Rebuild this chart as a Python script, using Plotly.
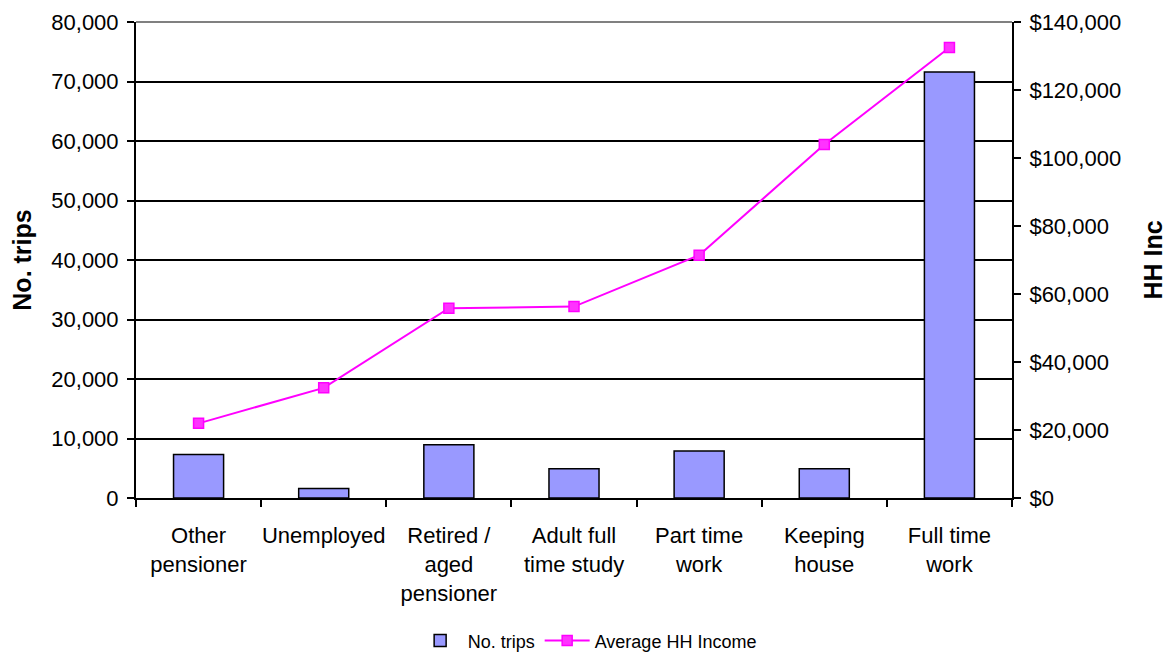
import plotly.graph_objects as go

categories = ["Other<br>pensioner", "Unemployed", "Retired /<br>aged<br>pensioner",
              "Adult full<br>time study", "Part time<br>work", "Keeping<br>house", "Full time<br>work"]
no_trips = [7300, 1600, 8950, 4900, 7900, 4900, 71600]
avg_income = [21950, 32400, 55800, 56300, 71400, 104000, 132500]

FONT = "Liberation Sans, Arial, sans-serif"

fig = go.Figure()
fig.add_trace(go.Bar(
    x=categories, y=no_trips, name="No. trips",
    marker=dict(color="#9999FF", line=dict(color="black", width=1.5)),
    width=0.4, yaxis="y",
))
fig.add_trace(go.Scatter(
    x=categories, y=avg_income, name="Average HH Income",
    mode="lines+markers", yaxis="y2",
    line=dict(color="#FF00FF", width=2),
    marker=dict(symbol="square", size=10, color="#FF33FF", line=dict(color="#FF00FF", width=1.5)),
))

fig.update_layout(
    width=1172, height=654,
    margin=dict(l=128, r=168, t=14, b=164, autoexpand=False),
    paper_bgcolor="white", plot_bgcolor="white",
    font=dict(family=FONT, color="black"),
    showlegend=True,
    legend=dict(orientation="h", x=0.515, xanchor="center", y=-0.3, yanchor="middle",
                font=dict(size=18, family=FONT), tracegroupgap=0, itemwidth=45),
    bargap=0.6,
    xaxis=dict(
        type="category", showline=True, linecolor="black", linewidth=2,
        ticks="outside", tickson="boundaries", ticklen=7, tickwidth=1.5, tickcolor="black",
        tickfont=dict(size=22, family=FONT), showgrid=False, tickangle=0, automargin=False,
        ticklabelstandoff=17,
    ),
    yaxis=dict(
        range=[0, 80000], dtick=10000, tickformat=",", showline=True, linecolor="black", linewidth=2,
        ticks="outside", ticklen=7, tickwidth=1.5, tickcolor="black",
        showgrid=True, gridcolor="black", gridwidth=1.5,
        tickfont=dict(size=22, family=FONT), automargin=False, ticklabelstandoff=4,
        ticklabeloverflow="allow",
        title=dict(text="<b>No. trips</b>", font=dict(size=25, family=FONT), standoff=20),
        zeroline=False,
    ),
    yaxis2=dict(
        range=[0, 140000], dtick=20000, tickformat=",", tickprefix="$",
        overlaying="y", side="right", showline=True, linecolor="black", linewidth=2,
        ticks="outside", ticklen=7, tickwidth=1.5, tickcolor="black",
        showgrid=False, zeroline=False, automargin=False, ticklabelstandoff=4,
        ticklabeloverflow="allow",
        tickfont=dict(size=22, family=FONT),
        title=dict(text="<b>HH Inc</b>", font=dict(size=25, family=FONT), standoff=24),
    ),
    shapes=[dict(type="line", xref="paper", yref="paper", x0=0, x1=1, y0=1, y1=1,
                 line=dict(color="#808080", width=2))],
)

fig.write_html("out.html")
